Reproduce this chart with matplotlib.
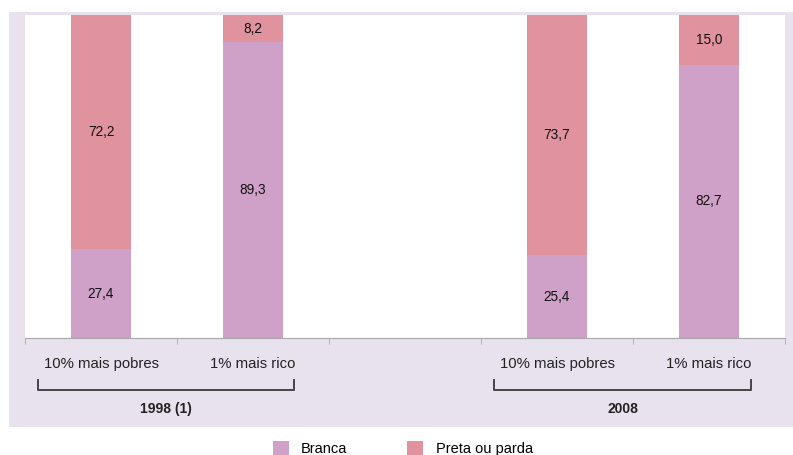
import matplotlib
matplotlib.use("Agg")
import matplotlib.pyplot as plt
from matplotlib.patches import Rectangle
import numpy as np

plt.rcParams['font.family'] = ['Liberation Sans', 'DejaVu Sans']

categories = ["10% mais pobres", "1% mais rico", "", "10% mais pobres", "1% mais rico"]
branca = [27.4, 89.3, None, 25.4, 82.7]
preta = [72.2, 8.2, None, 73.7, 15.0]
groups = ["1998 (1)", "2008"]
series_names = ["Branca", "Preta ou parda"]
colors = ["#cfa1c8", "#e0939e"]

fig = plt.figure(figsize=(7.93, 4.55), dpi=100)
fig.patches.append(Rectangle((9/793, 28/455), 1 - 9/793, (427-12)/455,
                             transform=fig.transFigure, facecolor="#e8e2ee",
                             edgecolor="none", zorder=-5))
ax = fig.add_axes([25/793, 117/455, 760/793, 323/455])
ax.set_zorder(2)
ax.set_facecolor("white")

x = np.arange(len(categories))
for i in range(len(categories)):
    if branca[i] is None:
        continue
    tot = branca[i] + preta[i]
    b = branca[i] / tot * 100
    p = preta[i] / tot * 100
    ax.bar(x[i], b, width=0.4, color=colors[0], edgecolor="none")
    ax.bar(x[i], p, bottom=b, width=0.4, color=colors[1], edgecolor="none")
    ax.text(x[i], b / 2, f"{branca[i]:.1f}".replace(".", ","), ha="center",
            va="center", fontsize=9.8, color="#111111")
    ax.text(x[i], b + p / 2, f"{preta[i]:.1f}".replace(".", ","), ha="center",
            va="center", fontsize=9.8, color="#111111")

ax.set_xlim(-0.5, len(categories) - 0.5)
ax.set_ylim(0, 100)
ax.set_yticks([])
for s in ["left", "right", "top"]:
    ax.spines[s].set_visible(False)
ax.spines["bottom"].set_color("#a8a8a8")
ax.set_xticks(x)
ax.set_xticklabels(categories, fontsize=10.7, color="#222222")
ax.tick_params(axis="x", which="major", length=0, pad=14)
ax.set_xticks(np.arange(-0.5, len(categories)), minor=True)
ax.tick_params(axis="x", which="minor", length=4, color="#a8a8a8")

trans = ax.get_xaxis_transform()
brackets = [(-0.414, 1.27), (2.586, 4.276)]
for (x0, x1), g in zip(brackets, groups):
    ax.plot([x0, x0, x1, x1], [-0.130, -0.161, -0.161, -0.130], transform=trans,
            clip_on=False, color="#444444", lw=1.4)
    ax.text((x0 + x1) / 2, -0.22, g, transform=trans, ha="center", va="center",
            fontsize=10, fontweight="bold", color="#222222")

handles = [Rectangle((0, 0), 1, 1, facecolor=c, edgecolor="none") for c in colors]
fig.legend(handles, series_names, loc="center", bbox_to_anchor=(0.508, 0.015),
           ncol=2, frameon=False, fontsize=10.5, handlelength=1.1, handleheight=1.1,
           columnspacing=4.1, handletextpad=0.85)

fig.savefig("out.png", dpi=100, facecolor="white")
